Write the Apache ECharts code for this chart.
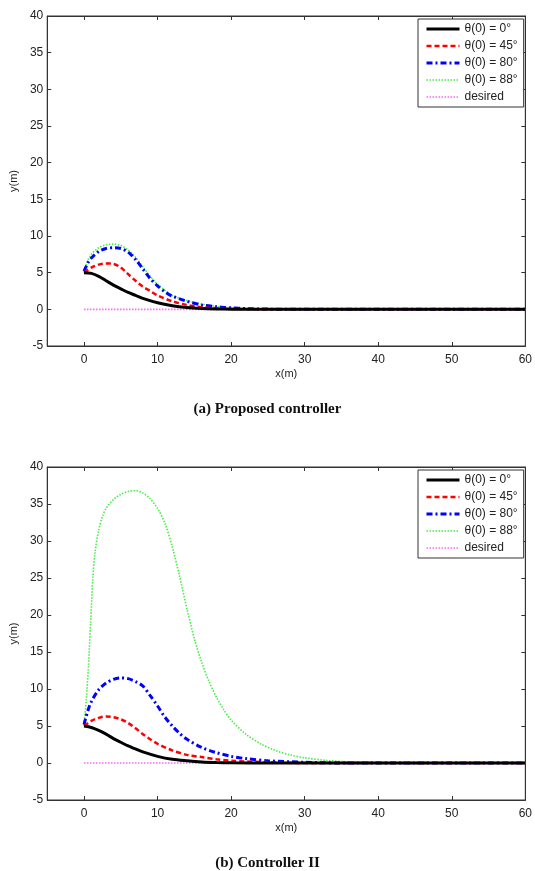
<!DOCTYPE html>
<html><head><meta charset="utf-8">
<script src="https://cdn.jsdelivr.net/npm/echarts@6/dist/echarts.min.js"></script>
<style>html,body{margin:0;padding:0;background:#fff}#c{width:535px;height:871px}</style>
</head><body><div id="c"></div>
<script>
// ---- Data ----
const seriesNames = ['θ(0) = 0°', 'θ(0) = 45°', 'θ(0) = 80°', 'θ(0) = 88°', 'desired'];
const xTicks = [0, 10, 20, 30, 40, 50, 60];
const yTicks = [-5, 0, 5, 10, 15, 20, 25, 30, 35, 40];
const captions = ['(a) Proposed controller', '(b) Controller II'];

// (a) Proposed controller
const a0X = [0, 1, 2, 3, 4, 5, 6, 7, 8, 10, 12, 14, 16, 18, 20, 25, 60];
const a0Y = [5.0, 4.9, 4.5, 3.9, 3.3, 2.8, 2.3, 1.9, 1.5, 0.9, 0.5, 0.25, 0.12, 0.05, 0.02, 0, 0];
const a45X = [0, 1, 2, 3, 4, 5, 6, 7, 8, 9, 10, 12, 14, 16, 18, 20, 22, 25, 60];
const a45Y = [5.0, 5.7, 6.1, 6.25, 6.2, 5.7, 4.8, 3.9, 3.1, 2.5, 1.9, 1.1, 0.6, 0.3, 0.15, 0.07, 0.03, 0, 0];
const a80X = [0, 0.5, 1, 2, 3, 4, 5, 6, 7, 8, 9, 10, 11, 12, 14, 16, 18, 20, 22, 25, 30, 60];
const a80Y = [5.2, 6.3, 7.0, 7.9, 8.3, 8.4, 8.3, 7.8, 6.8, 5.5, 4.2, 3.2, 2.4, 1.8, 1.1, 0.6, 0.35, 0.2, 0.1, 0.03, 0, 0];
const a88X = [0, 0.5, 1, 2, 3, 4, 5, 6, 7, 8, 9, 10, 11, 12, 14, 16, 18, 20, 22, 25, 30, 60];
const a88Y = [5.2, 6.6, 7.5, 8.4, 8.8, 8.9, 8.7, 8.1, 7.1, 5.8, 4.5, 3.4, 2.6, 1.9, 1.2, 0.7, 0.4, 0.2, 0.1, 0.03, 0, 0];
const aDesX = [0, 60];
const aDesY = [0, 0];

// (b) Controller II
const b0X = [0, 1, 2, 3, 4, 5, 6, 7, 8, 10, 12, 14, 16, 18, 20, 25, 60];
const b0Y = [5.0, 4.8, 4.4, 3.9, 3.3, 2.8, 2.3, 1.9, 1.5, 0.9, 0.5, 0.3, 0.15, 0.07, 0.03, 0, 0];
const b45X = [0, 1, 2, 3, 4, 5, 6, 7, 8, 9, 10, 12, 14, 16, 18, 20, 25, 30, 60];
const b45Y = [5.0, 5.7, 6.1, 6.3, 6.2, 5.9, 5.4, 4.7, 3.9, 3.2, 2.6, 1.7, 1.1, 0.8, 0.5, 0.3, 0.1, 0, 0];
const b80X = [0, 0.5, 1, 2, 3, 4, 5, 6, 7, 8, 9, 10, 11, 12, 13, 14, 16, 18, 20, 22, 25, 30, 35, 60];
const b80Y = [5.2, 7.0, 8.3, 9.9, 10.8, 11.3, 11.5, 11.4, 11.0, 10.4, 9.1, 7.7, 6.2, 5.0, 4.0, 3.2, 2.1, 1.4, 0.9, 0.6, 0.3, 0.1, 0, 0];
const b88X = [0, 0.3, 0.6, 0.9, 1.2, 1.5, 2, 2.5, 3, 4, 5, 6, 7, 8, 9, 10, 11, 12, 13, 14, 15, 16, 17, 18, 19, 20, 22, 24, 26, 28, 30, 33, 36, 40, 45, 60];
const b88Y = [5.2, 8.5, 13, 19, 25, 28.5, 31.5, 33.3, 34.4, 35.6, 36.3, 36.7, 36.8, 36.5, 35.7, 34.4, 32.4, 29.2, 25.2, 20.8, 16.8, 13.6, 11.0, 8.9, 7.2, 5.8, 3.9, 2.6, 1.7, 1.1, 0.7, 0.35, 0.15, 0.05, 0, 0];
const bDesX = [0, 60];
const bDesY = [0, 0];

const zip = (xs, ys) => xs.map((x, i) => [x, ys[i]]);

const styles = [
  { color: '#000000', width: 3, type: 'solid' },
  { color: '#ff0000', width: 2.5, type: [5, 3] },
  { color: '#0000ff', width: 3, type: [6, 3, 2, 3] },
  { color: '#44ee44', width: 1.6, type: [1.5, 1.5] },
  { color: '#ff66ff', width: 1.6, type: [1.5, 1.5] }
];

const panels = [
  { data: [zip(a0X, a0Y), zip(a45X, a45Y), zip(a80X, a80Y), zip(a88X, a88Y), zip(aDesX, aDesY)] },
  { data: [zip(b0X, b0Y), zip(b45X, b45Y), zip(b80X, b80Y), zip(b88X, b88Y), zip(bDesX, bDesY)] }
];

const FONT = "'Liberation Sans', Arial, sans-serif";
const gridPos = [
  { left: 47, top: 16, width: 480, height: 330 },
  { left: 47, top: 467, width: 480, height: 333 }
];

const grid = gridPos.map(g => Object.assign({ show: true, borderColor: '#333', borderWidth: 1, backgroundColor: '#fff' }, g));

const xAxis = [], yAxis = [], series = [], legend = [], graphic = [];
gridPos.forEach((g, gi) => {
  xAxis.push({
    gridIndex: gi, type: 'value', min: -5, max: 60, position: 'bottom',
    name: 'x(m)', nameLocation: 'middle', nameGap: 22,
    nameTextStyle: { fontFamily: FONT, fontSize: 11, color: '#222' },
    axisLine: { show: true, onZero: false, lineStyle: { color: '#333' } },
    axisTick: { show: true, inside: true, length: 4, customValues: xTicks, lineStyle: { color: '#333' } },
    axisLabel: { show: true, customValues: xTicks, fontFamily: FONT, fontSize: 12, color: '#222', margin: 8 },
    splitLine: { show: false }
  });
  xAxis.push({
    gridIndex: gi, type: 'value', min: -5, max: 60, position: 'top',
    axisLine: { show: true, onZero: false, lineStyle: { color: '#333' } },
    axisTick: { show: true, inside: true, length: 4, customValues: xTicks, lineStyle: { color: '#333' } },
    axisLabel: { show: false }, splitLine: { show: false }
  });
  yAxis.push({
    gridIndex: gi, type: 'value', min: -5, max: 40, interval: 5, position: 'left',
    name: 'y(m)', nameLocation: 'middle', nameGap: 26,
    nameTextStyle: { fontFamily: FONT, fontSize: 11, color: '#222' },
    axisLine: { show: true, onZero: false, lineStyle: { color: '#333' } },
    axisTick: { show: true, inside: true, length: 4, customValues: yTicks, lineStyle: { color: '#333' } },
    axisLabel: { show: true, customValues: yTicks, fontFamily: FONT, fontSize: 12, color: '#222', margin: 4 },
    splitLine: { show: false }
  });
  yAxis.push({
    gridIndex: gi, type: 'value', min: -5, max: 40, interval: 5, position: 'right',
    axisLine: { show: true, onZero: false, lineStyle: { color: '#333' } },
    axisTick: { show: true, inside: true, length: 4, customValues: yTicks, lineStyle: { color: '#333' } },
    axisLabel: { show: false }, splitLine: { show: false }
  });
  panels[gi].data.forEach((d, si) => {
    const s = styles[si];
    series.push({
      name: seriesNames[si], type: 'line', data: d,
      xAxisIndex: gi * 2, yAxisIndex: gi * 2,
      symbol: 'none', smooth: si === 4 ? false : 0.3,
      lineStyle: { color: s.color, width: s.width, type: s.type },
      itemStyle: { color: s.color },
      z: 10 - si, animation: false
    });
  });
  legend.push({
    data: seriesNames, orient: 'vertical',
    left: 418, top: g.top + 3,
    itemWidth: 33, itemHeight: 12, itemGap: 5,
    padding: [4, 6, 4, 7],
    borderColor: '#333', borderWidth: 1, backgroundColor: '#fff',
    itemStyle: { opacity: 0 },
    lineStyle: { width: 'inherit' },
    textStyle: { fontFamily: FONT, fontSize: 12, color: '#222' },
    selectedMode: false
  });
  graphic.push({
    type: 'text', left: 'center', top: gi === 0 ? 402 : 856,
    style: { text: captions[gi], font: "bold 15px 'Liberation Serif', 'Times New Roman', serif", fill: '#111' }
  });
});

const chart = echarts.init(document.getElementById('c'), null, { renderer: 'canvas' });
chart.setOption({ animation: false, backgroundColor: '#fff', grid, xAxis, yAxis, series, legend, graphic });
</script>
</body></html>
